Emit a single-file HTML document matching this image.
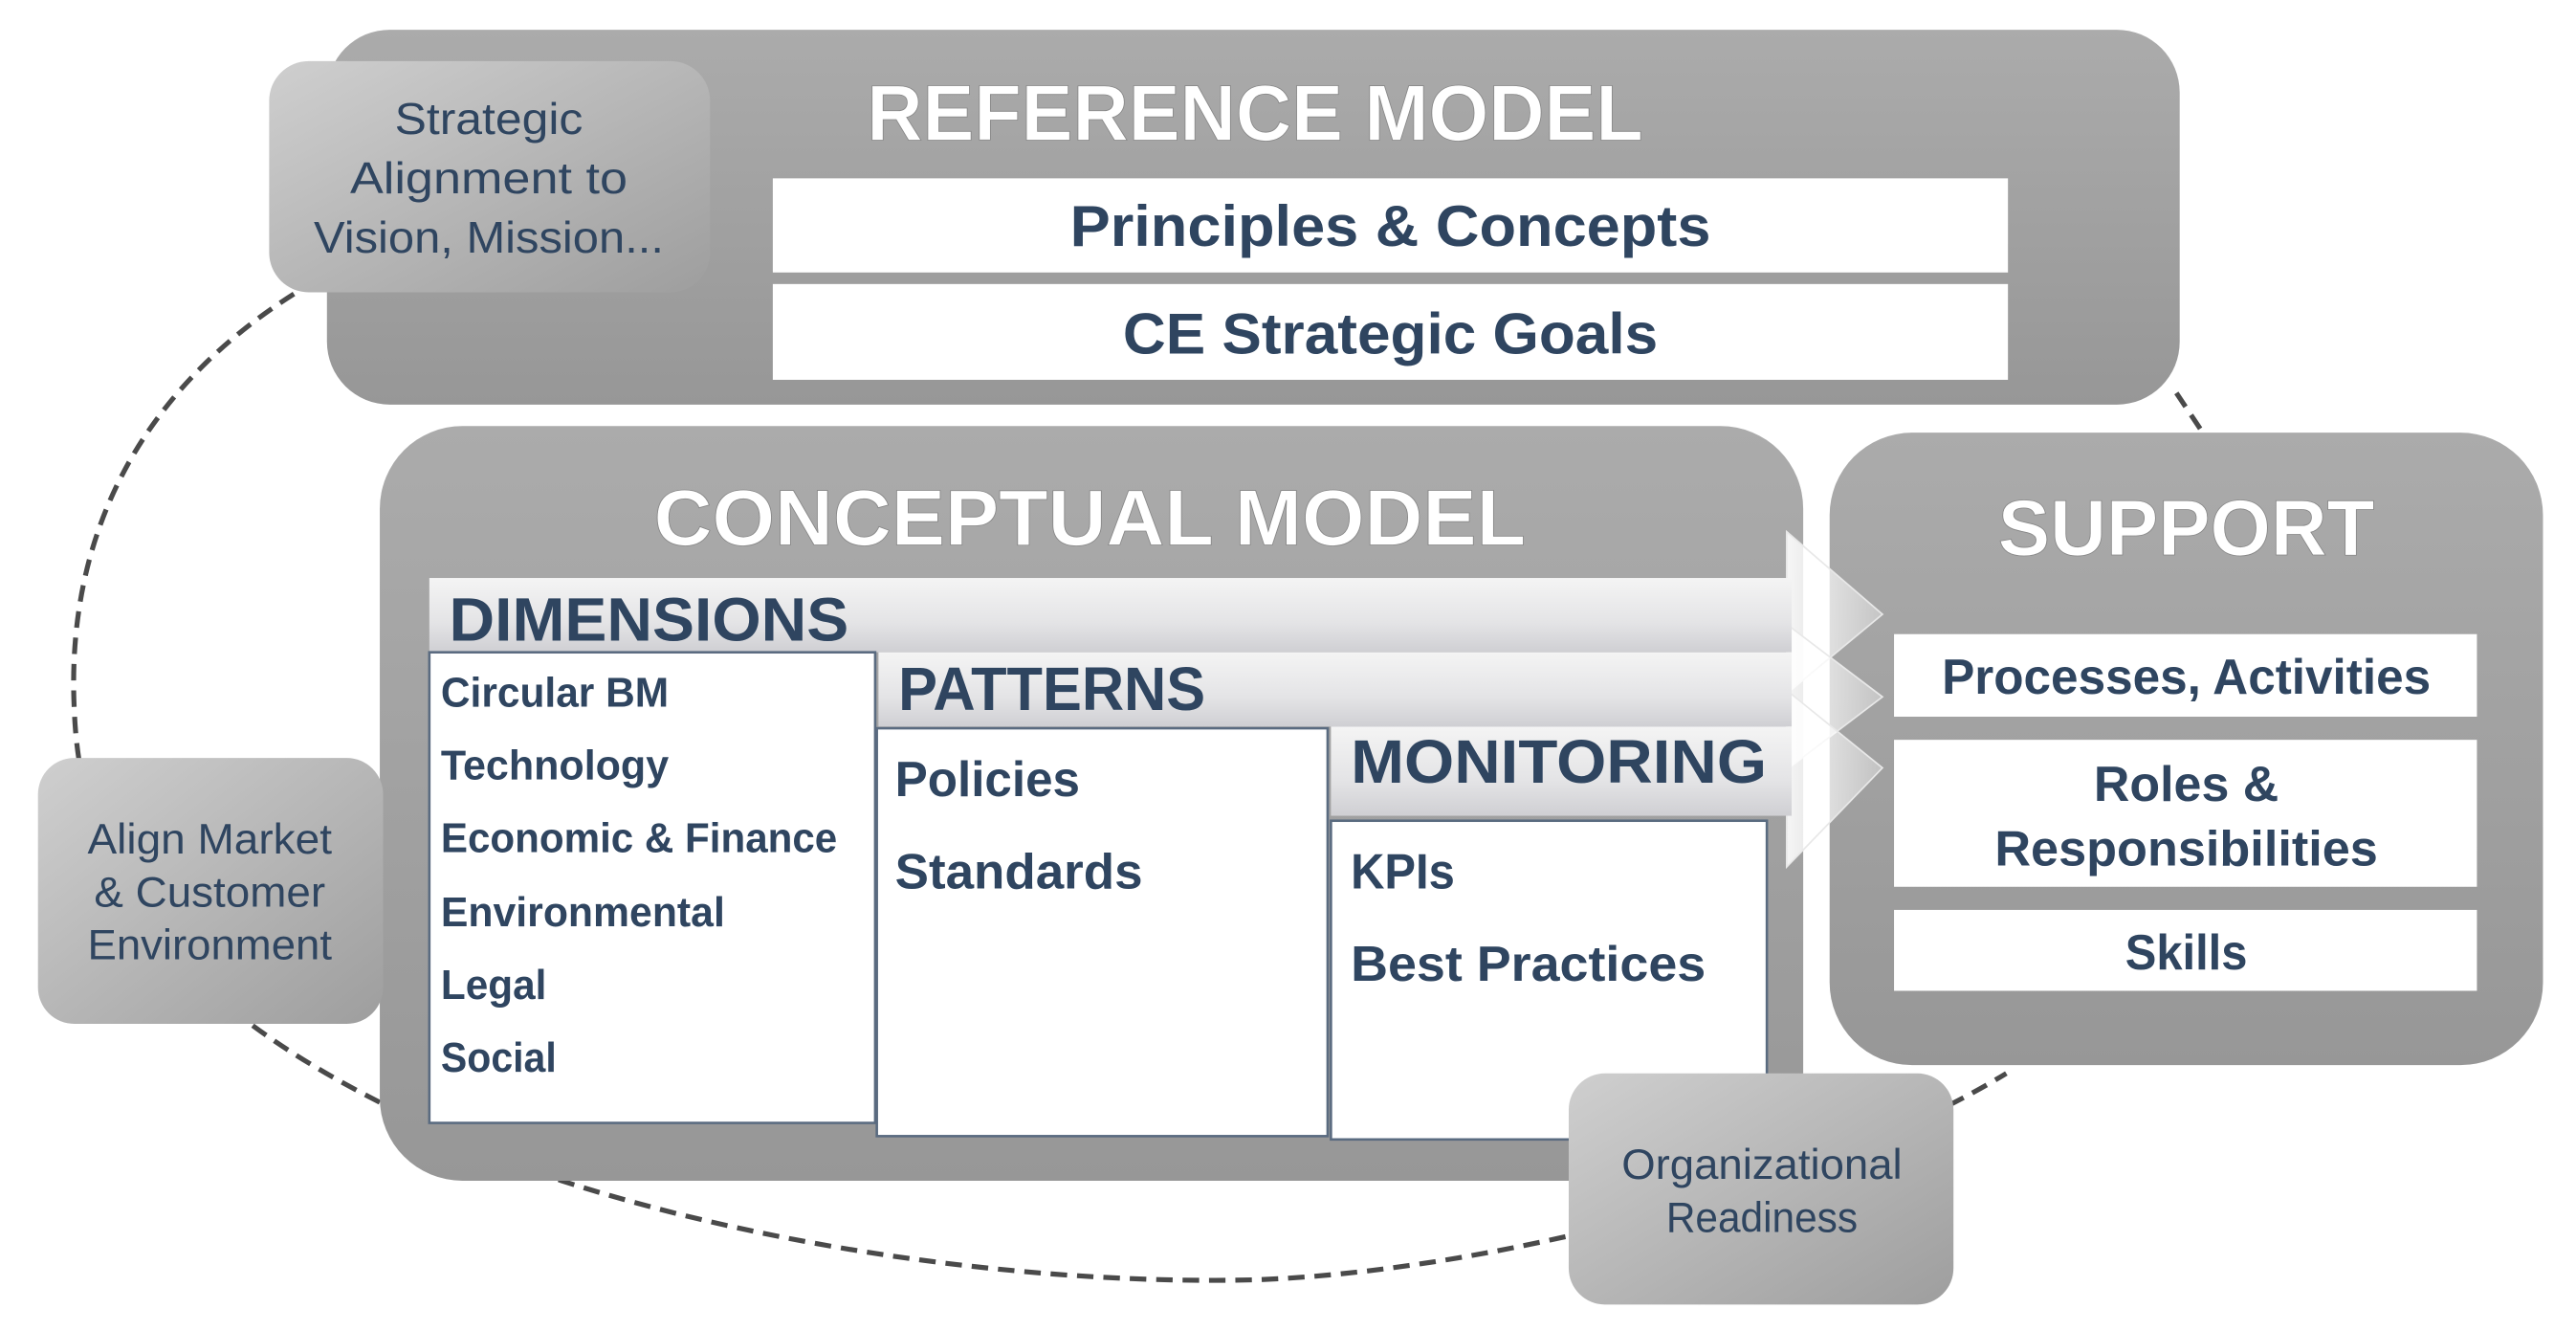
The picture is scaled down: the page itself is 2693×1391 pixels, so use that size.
<!DOCTYPE html>
<html><head><meta charset="utf-8"><style>
html,body{margin:0;padding:0;background:#fff;}
svg{display:block;}
text{font-family:"Liberation Sans",sans-serif;}
</style></head><body>
<svg width="2693" height="1391" viewBox="0 0 1560 806" preserveAspectRatio="none" xmlns="http://www.w3.org/2000/svg">
<defs>
<linearGradient id="gbox" x1="0" y1="0" x2="0" y2="1"><stop offset="0" stop-color="#ababab"/><stop offset="1" stop-color="#979797"/></linearGradient>
<linearGradient id="gsmall" x1="0" y1="0" x2="1" y2="1"><stop offset="0" stop-color="#cfcfcf"/><stop offset="1" stop-color="#9e9e9e"/></linearGradient>
<linearGradient id="gband" x1="0" y1="0" x2="0" y2="1"><stop offset="0" stop-color="#f4f4f4"/><stop offset="0.6" stop-color="#e4e4e6"/><stop offset="1" stop-color="#cfcfd3"/></linearGradient>
<linearGradient id="garrow" x1="0" y1="0" x2="1" y2="0"><stop offset="0" stop-color="#ffffff" stop-opacity="0.9"/><stop offset="1" stop-color="#ffffff" stop-opacity="0.35"/></linearGradient>
</defs>

<path d="M 178 178 C 80 240, 40 330, 45 430 C 50 560, 140 640, 340 715 C 480 760, 640 778, 760 775 C 900 770, 1100 720, 1215 650" fill="none" stroke="#4a4a4a" stroke-width="3" stroke-dasharray="10,6"/>
<path d="M 1318 238 L 1334 262" fill="none" stroke="#4a4a4a" stroke-width="3" stroke-dasharray="10,6"/>

<!-- Reference model -->
<rect x="198" y="18" width="1122" height="227" rx="38" fill="url(#gbox)"/>
<text x="760" y="85" text-anchor="middle" font-size="48" font-weight="bold" fill="#fff" stroke="#888" stroke-width="0.5" textLength="470" lengthAdjust="spacingAndGlyphs">REFERENCE MODEL</text>
<rect x="468" y="108" width="748" height="57" fill="#fff"/>
<text x="842" y="149" text-anchor="middle" font-size="35" font-weight="bold" fill="#2f4560" textLength="388" lengthAdjust="spacingAndGlyphs">Principles &amp; Concepts</text>
<rect x="468" y="172" width="748" height="58" fill="#fff"/>
<text x="842" y="214" text-anchor="middle" font-size="35" font-weight="bold" fill="#2f4560" textLength="324" lengthAdjust="spacingAndGlyphs">CE Strategic Goals</text>

<!-- Strategic alignment -->
<rect x="163" y="37" width="267" height="140" rx="24" fill="url(#gsmall)"/>
<g font-size="27" fill="#2f4560" text-anchor="middle" lengthAdjust="spacingAndGlyphs">
<text x="296" y="81" textLength="114" lengthAdjust="spacingAndGlyphs">Strategic</text>
<text x="296" y="117" textLength="168" lengthAdjust="spacingAndGlyphs">Alignment to</text>
<text x="296" y="153" textLength="212" lengthAdjust="spacingAndGlyphs">Vision, Mission...</text>
</g>

<!-- Conceptual model -->
<rect x="230" y="258" width="862" height="457" rx="50" fill="url(#gbox)"/>
<text x="660" y="330" text-anchor="middle" font-size="48" font-weight="bold" fill="#fff" stroke="#888" stroke-width="0.5" textLength="528" lengthAdjust="spacingAndGlyphs">CONCEPTUAL MODEL</text>

<!-- Support -->
<rect x="1108" y="262" width="432" height="383" rx="50" fill="url(#gbox)"/>
<text x="1324" y="336" text-anchor="middle" font-size="48" font-weight="bold" fill="#fff" stroke="#888" stroke-width="0.5" textLength="228" lengthAdjust="spacingAndGlyphs">SUPPORT</text>
<rect x="1147" y="384" width="353" height="50" fill="#fff"/>
<text x="1324" y="420" text-anchor="middle" font-size="30" font-weight="bold" fill="#2f4560" textLength="296" lengthAdjust="spacingAndGlyphs">Processes, Activities</text>
<rect x="1147" y="448" width="353" height="89" fill="#fff"/>
<text x="1324" y="485" text-anchor="middle" font-size="30" font-weight="bold" fill="#2f4560" textLength="112" lengthAdjust="spacingAndGlyphs">Roles &amp;</text>
<text x="1324" y="524" text-anchor="middle" font-size="30" font-weight="bold" fill="#2f4560" textLength="232" lengthAdjust="spacingAndGlyphs">Responsibilities</text>
<rect x="1147" y="551" width="353" height="49" fill="#fff"/>
<text x="1324" y="587" text-anchor="middle" font-size="30" font-weight="bold" fill="#2f4560" textLength="74" lengthAdjust="spacingAndGlyphs">Skills</text>

<!-- Arrows / bands -->
<polygon points="1082,322 1140,372 1082,420" fill="url(#garrow)" stroke="#e8e8e8"/>
<polygon points="1082,378 1140,422 1082,466" fill="url(#garrow)" stroke="#e8e8e8"/>
<polygon points="1082,418 1140,465 1082,525" fill="url(#garrow)" stroke="#e8e8e8"/>
<rect x="260" y="350" width="825" height="45" fill="url(#gband)"/>
<rect x="532" y="395" width="553" height="45" fill="url(#gband)"/>
<rect x="806" y="440" width="279" height="54" fill="url(#gband)"/>
<text x="272" y="388" font-size="37" font-weight="bold" fill="#2f4560" textLength="242" lengthAdjust="spacingAndGlyphs">DIMENSIONS</text>
<text x="544" y="430" font-size="37" font-weight="bold" fill="#2f4560" textLength="186" lengthAdjust="spacingAndGlyphs">PATTERNS</text>
<text x="818" y="474" font-size="37" font-weight="bold" fill="#2f4560" textLength="252" lengthAdjust="spacingAndGlyphs">MONITORING</text>

<!-- List boxes -->
<rect x="260" y="395" width="270" height="285" fill="#fff" stroke="#5a6b80" stroke-width="1.5"/>
<g font-size="25" fill="#2f4560" font-weight="bold">
<text x="267" y="428" textLength="138" lengthAdjust="spacingAndGlyphs">Circular BM</text>
<text x="267" y="472" textLength="138" lengthAdjust="spacingAndGlyphs">Technology</text>
<text x="267" y="516" textLength="240" lengthAdjust="spacingAndGlyphs">Economic &amp; Finance</text>
<text x="267" y="561" textLength="172" lengthAdjust="spacingAndGlyphs">Environmental</text>
<text x="267" y="605" textLength="64" lengthAdjust="spacingAndGlyphs">Legal</text>
<text x="267" y="649" textLength="70" lengthAdjust="spacingAndGlyphs">Social</text>
</g>
<rect x="531" y="441" width="273" height="247" fill="#fff" stroke="#5a6b80" stroke-width="1.5"/>
<g font-size="30" fill="#2f4560" font-weight="bold">
<text x="542" y="482" textLength="112" lengthAdjust="spacingAndGlyphs">Policies</text>
<text x="542" y="538" textLength="150" lengthAdjust="spacingAndGlyphs">Standards</text>
</g>
<rect x="806" y="497" width="264" height="193" fill="#fff" stroke="#5a6b80" stroke-width="1.5"/>
<g font-size="30" fill="#2f4560" font-weight="bold">
<text x="818" y="538" textLength="63" lengthAdjust="spacingAndGlyphs">KPIs</text>
<text x="818" y="594" textLength="215" lengthAdjust="spacingAndGlyphs">Best  Practices</text>
</g>

<!-- Align market -->
<rect x="23" y="459" width="209" height="161" rx="22" fill="url(#gsmall)"/>
<g font-size="26" fill="#2f4560" text-anchor="middle">
<text x="127" y="517" textLength="148" lengthAdjust="spacingAndGlyphs">Align Market</text>
<text x="127" y="549" textLength="140" lengthAdjust="spacingAndGlyphs">&amp; Customer</text>
<text x="127" y="581" textLength="148" lengthAdjust="spacingAndGlyphs">Environment</text>
</g>

<!-- Org readiness -->
<rect x="950" y="650" width="233" height="140" rx="22" fill="url(#gsmall)"/>
<g font-size="26" fill="#2f4560" text-anchor="middle">
<text x="1067" y="714" textLength="170" lengthAdjust="spacingAndGlyphs">Organizational</text>
<text x="1067" y="746" textLength="116" lengthAdjust="spacingAndGlyphs">Readiness</text>
</g>
</svg>
</body></html>
